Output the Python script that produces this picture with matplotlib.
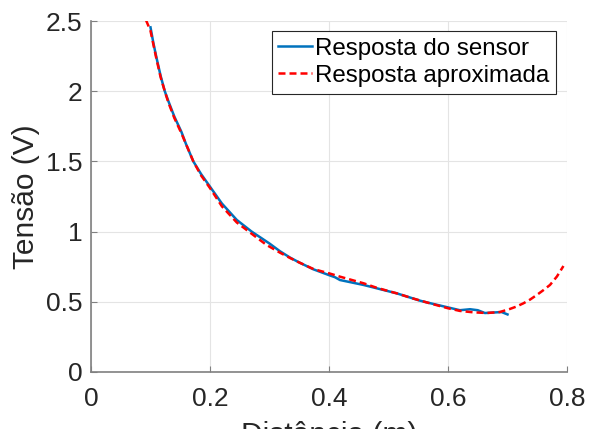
import matplotlib
matplotlib.use("Agg")
import matplotlib.pyplot as plt

# --- sensor response ---
dist_sensor = [0.100, 0.105, 0.110, 0.117, 0.124, 0.130, 0.140, 0.152, 0.160,
               0.172, 0.185, 0.200, 0.220, 0.245, 0.270, 0.300, 0.3176, 0.3345,
               0.350, 0.374, 0.400, 0.410, 0.4185, 0.458, 0.514, 0.553, 0.564,
               0.600, 0.620, 0.637, 0.650, 0.662, 0.690, 0.700]
volt_sensor = [2.455, 2.34, 2.24, 2.11, 2.00, 1.93, 1.82, 1.71, 1.62,
               1.50, 1.41, 1.32, 1.20, 1.083, 1.00, 0.915, 0.86, 0.815,
               0.78, 0.731, 0.69, 0.675, 0.655, 0.62, 0.56, 0.508, 0.496,
               0.46, 0.44, 0.447, 0.44, 0.42, 0.427, 0.41]

# --- fitted curve ---
dist_fit = [0.0924, 0.100, 0.105, 0.110, 0.117, 0.124, 0.130, 0.140, 0.152,
            0.160, 0.172, 0.185, 0.200, 0.220, 0.245, 0.273, 0.295, 0.3176,
            0.3345, 0.350, 0.374, 0.400, 0.4185, 0.458, 0.480, 0.514, 0.540,
            0.564, 0.580, 0.600, 0.620, 0.6425, 0.665, 0.687, 0.704, 0.715,
            0.7266, 0.738, 0.749, 0.760, 0.7714, 0.783, 0.794]
volt_fit = [2.507, 2.43, 2.33, 2.23, 2.10, 2.00, 1.92, 1.81, 1.70,
            1.62, 1.50, 1.40, 1.31, 1.18, 1.065, 0.975, 0.905, 0.85,
            0.812, 0.78, 0.733, 0.703, 0.679, 0.632, 0.60, 0.56, 0.525,
            0.496, 0.477, 0.454, 0.435, 0.425, 0.42, 0.427, 0.449, 0.466,
            0.489, 0.516, 0.548, 0.582, 0.62, 0.68, 0.755]

xticks = [0, 0.2, 0.4, 0.6, 0.8]
xtick_labels = ['0', '0.2', '0.4', '0.6', '0.8']
yticks = [0, 0.5, 1, 1.5, 2, 2.5]
ytick_labels = ['0', '0.5', '1', '1.5', '2', '2.5']

plt.rcParams['font.family'] = ['Liberation Sans', 'DejaVu Sans']

fig = plt.figure(figsize=(5.92, 4.29), dpi=100)
ax = fig.add_axes([0.1537, 0.1329, 0.8041, 0.8181])

ax.plot(dist_sensor, volt_sensor, color='#0072BD', linewidth=1.8,
        label='Resposta do sensor', zorder=3)
ax.plot(dist_fit, volt_fit, color='#FF0000', linewidth=1.8,
        linestyle=(0, (2.8, 1.6)), label='Resposta aproximada', zorder=4)

ax.set_xlim(0, 0.8)
ax.set_ylim(0, 2.5)
ax.set_xticks(xticks)
ax.set_xticklabels(xtick_labels)
ax.set_yticks(yticks)
ax.set_yticklabels(ytick_labels)

ax.grid(True, color='#e4e4e4', linewidth=0.8)
ax.set_axisbelow(True)

for side in ['top', 'right']:
    ax.spines[side].set_visible(False)
for side in ['left', 'bottom']:
    ax.spines[side].set_color('#808080')
    ax.spines[side].set_linewidth(1.2)

ax.tick_params(axis='both', direction='in', length=4, width=0.8,
               color='#808080', labelsize=19, labelcolor='#262626')
ax.tick_params(axis='x', pad=11)
ax.tick_params(axis='y', pad=6)

ax.set_xlabel('Distância (m)', fontsize=21.5, color='#262626', labelpad=7)
ax.set_ylabel('Tensão (V)', fontsize=21.5, color='#262626')

leg = ax.legend(loc='upper right', bbox_to_anchor=(0.977, 0.972), fontsize=17.4,
                frameon=True, fancybox=False, edgecolor='#262626',
                framealpha=1, handlelength=1.4, handletextpad=0.12,
                borderpad=0.28, labelspacing=0.22, borderaxespad=0)
leg.get_frame().set_linewidth(0.8)

fig.savefig('out.png', dpi=100)
